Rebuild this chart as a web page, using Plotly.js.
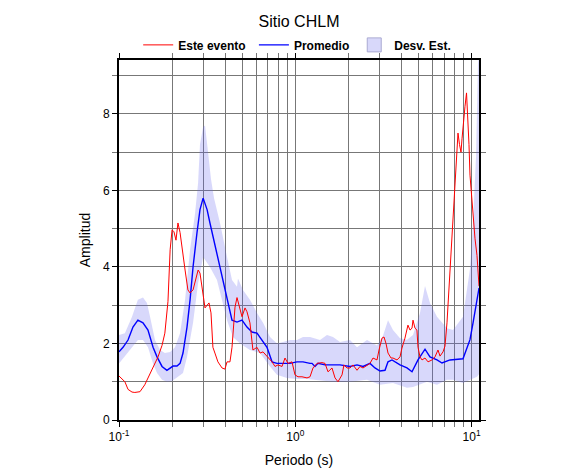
<!DOCTYPE html>
<html>
<head>
<meta charset="utf-8">
<script src="https://cdn.plot.ly/plotly-3.0.1.min.js"></script>
<style>html,body{margin:0;padding:0;background:#fff;}#chart{width:586px;height:475px;}</style>
</head>
<body>
<div id="chart"></div>
<script>
// Este evento
var redPeriod = [0.1,0.104,0.108,0.1125,0.1185,0.123,0.1315,0.14,0.148,0.154,0.1665,0.1754,0.182,0.1896,0.195,0.2,0.205,0.2105,0.216,0.222,0.228,0.237,0.246,0.253,0.263,0.273,0.281,0.288,0.296,0.3075,0.316,0.324,0.3325,0.341,0.35,0.364,0.384,0.399,0.41,0.426,0.4375,0.455,0.467,0.486,0.4986,0.5185,0.532,0.553,0.575,0.6065,0.631,0.656,0.7,0.738,0.767,0.798,0.841,0.874,0.909,0.958,0.996,1.036,1.091,1.165,1.212,1.26,1.328,1.417,1.474,1.533,1.615,1.68,1.747,1.841,1.888,1.965,2.043,2.125,2.239,2.328,2.421,2.551,2.653,2.759,2.907,2.984,3.103,3.185,3.27,3.356,3.49,3.581,3.775,3.926,4.027,4.188,4.301,4.355,4.473,4.592,4.652,4.775,4.898,4.966,5.097,5.233,5.442,5.659,5.962,6.2,6.447,6.62,6.884,7.063,7.252,7.542,7.843,8.05,8.264,8.372,8.54,8.708,8.822,8.938,9.175,9.36,9.48,9.665,9.793,10.05,10.19,10.45,10.73,11.02];
var redAmp = [1.15,1.08,1.0,0.8,0.73,0.72,0.74,0.92,1.15,1.3,1.65,1.95,2.27,3.1,4.45,4.97,4.92,4.7,5.15,4.9,4.45,3.92,3.4,3.32,3.4,3.66,3.92,3.84,3.48,2.93,3.0,3.06,2.8,1.9,1.75,1.52,1.36,1.33,1.52,1.52,1.9,2.95,3.2,2.88,2.7,2.93,2.83,2.54,1.83,1.9,1.75,1.78,1.65,1.52,1.4,1.44,1.4,1.62,1.48,1.52,1.18,1.13,1.13,1.1,1.13,1.36,1.48,1.5,1.48,1.26,1.36,1.1,1.0,1.18,1.44,1.36,1.36,1.44,1.3,1.4,1.36,1.44,1.48,1.62,1.57,1.83,2.14,2.17,2.0,1.75,1.62,1.62,1.57,1.65,1.88,2.14,2.35,2.48,2.35,2.4,2.61,2.4,2.35,1.9,1.65,1.57,1.62,1.52,1.57,1.65,1.83,1.67,1.78,1.93,2.54,3.84,5.15,6.0,6.9,7.5,7.2,7.0,7.35,7.7,8.2,8.55,8.1,7.2,6.4,5.7,5.2,4.75,4.3,3.5];

// Promedio
var avgPeriod = [0.1,0.1054,0.1125,0.12,0.128,0.1368,0.146,0.156,0.1643,0.1754,0.187,0.195,0.2025,0.2133,0.222,0.2307,0.2431,0.253,0.263,0.277,0.288,0.3,0.316,0.328,0.341,0.3596,0.384,0.41,0.4375,0.467,0.4986,0.532,0.568,0.6065,0.6474,0.691,0.738,0.787,0.8516,0.933,1.022,1.106,1.212,1.244,1.293,1.345,1.474,1.573,1.793,2.043,2.239,2.421,2.653,2.831,3.023,3.227,3.356,3.537,3.678,3.926,4.301,4.592,4.966,5.442,5.807,6.363,6.795,7.542,8.938,9.793,10.19,11.02];
var avgAmp = [1.78,1.9,2.09,2.43,2.61,2.54,2.35,1.9,1.65,1.4,1.3,1.36,1.41,1.41,1.48,1.75,2.43,3.14,4.0,4.9,5.5,5.8,5.5,5.15,4.8,4.37,3.74,3.14,2.61,2.56,2.61,2.43,2.3,2.27,2.09,1.9,1.52,1.48,1.48,1.48,1.52,1.52,1.48,1.48,1.4,1.48,1.44,1.44,1.44,1.4,1.44,1.4,1.48,1.36,1.28,1.3,1.52,1.57,1.52,1.44,1.36,1.26,1.57,1.85,1.65,1.57,1.49,1.57,1.6,2.1,2.54,3.45];

// Desv. Est. (upper and lower bounds)
var sdUpperPeriod = [0.1,0.108,0.1185,0.128,0.1368,0.1441,0.15,0.16,0.171,0.182,0.195,0.2078,0.222,0.237,0.253,0.27,0.281,0.288,0.3,0.3075,0.32,0.3325,0.3458,0.374,0.41,0.4375,0.467,0.473,0.505,0.553,0.6065,0.656,0.7186,0.787,0.8516,0.933,1.022,1.106,1.212,1.381,1.513,1.636,1.793,2.043,2.239,2.551,2.907,3.144,3.356,3.581,3.926,4.301,4.652,5.097,5.442,5.807,6.363,7.252,7.843,8.938,9.793,10.19,10.6,10.73,10.87,11.02];
var sdUpperAmp = [2.22,2.27,2.7,3.14,3.2,3.06,2.7,2.09,1.83,1.75,1.78,1.9,2.27,3.14,4.45,5.4,6.2,7.2,7.66,7.7,7.0,6.3,5.8,5.15,4.26,3.66,3.48,3.7,3.4,3.14,2.8,2.54,2.17,2.0,2.04,2.09,2.09,2.17,2.17,2.09,2.22,2.17,2.04,2.09,1.9,2.09,1.95,2.2,2.61,2.35,2.14,2.1,2.22,2.8,3.5,3.06,2.7,2.4,2.35,2.7,3.95,5.15,6.9,8.65,9.3,9.6];
var sdLowerPeriod = [0.1,0.108,0.1185,0.128,0.1368,0.146,0.156,0.1643,0.1754,0.187,0.2,0.216,0.2307,0.2431,0.263,0.281,0.3,0.328,0.3596,0.41,0.443,0.486,0.553,0.631,0.7186,0.787,0.897,1.022,1.165,1.328,1.636,2.043,2.551,3.023,3.581,4.301,4.652,5.585,6.363,7.252,7.843,8.938,9.793,10.73,11.02];
var sdLowerAmp = [1.48,1.65,1.9,2.09,2.09,1.9,1.48,1.23,1.05,1.0,1.02,1.13,1.23,1.65,2.54,3.58,4.26,4.0,3.66,2.61,2.17,2.0,1.83,1.75,1.4,1.18,1.1,1.07,1.07,1.05,1.0,1.0,1.05,0.92,0.97,0.84,0.86,1.0,0.92,1.05,1.05,0.97,1.05,1.13,1.2];

var xMajor = [0.1, 1, 10];
var xMajorText = ['10<sup>-1</sup>', '10<sup>0</sup>', '10<sup>1</sup>'];
var xMinor = [0.2,0.3,0.4,0.5,0.6,0.7,0.8,0.9,2,3,4,5,6,7,8,9];
var yMajor = [0,2,4,6,8];
var yMinor = [1,3,5,7,9];

var bandX = sdUpperPeriod.concat(sdLowerPeriod.slice().reverse());
var bandY = sdUpperAmp.concat(sdLowerAmp.slice().reverse());
var bandColor = 'rgba(100,100,240,0.25)';

var traces = [
  {x: bandX, y: bandY, type: 'scatter', mode: 'lines', fill: 'toself',
   fillcolor: bandColor, line: {width: 0, color: 'rgba(0,0,0,0)'},
   showlegend: false, hoverinfo: 'skip'},
  {x: avgPeriod, y: avgAmp, type: 'scatter', mode: 'lines',
   line: {color: 'rgb(0,0,255)', width: 1.4}, name: 'Promedio', legendrank: 2},
  {x: redPeriod, y: redAmp, type: 'scatter', mode: 'lines',
   line: {color: 'rgb(255,0,0)', width: 1}, name: 'Este evento\u00a0', legendrank: 1},
  {x: [null], y: [null], type: 'scatter', mode: 'markers',
   marker: {symbol: 'square', size: 14, color: 'rgb(216,216,250)', line: {color: 'rgb(170,170,210)', width: 1}},
   name: 'Desv. Est.', legendrank: 3, hoverinfo: 'skip'}
];

var layout = {
  width: 586, height: 475,
  margin: {l: 119, r: 107, t: 60, b: 55},
  paper_bgcolor: '#fff', plot_bgcolor: '#fff',
  font: {family: 'Liberation Sans, Arial, sans-serif', size: 12, color: '#000'},
  title: {text: 'Sitio CHLM', font: {size: 16}, x: 0.5, xref: 'paper', y: 0.955, yref: 'container', yanchor: 'middle'},
  showlegend: true,
  legend: {orientation: 'h', x: 0.495, xanchor: 'center', y: 1.042, yanchor: 'middle',
           font: {size: 12, weight: 'bold'}, tracegroupgap: 0, bgcolor: 'rgba(0,0,0,0)'},
  xaxis: {
    type: 'log', range: [-1, 1.042],
    tickmode: 'array', tickvals: xMajor, ticktext: xMajorText,
    ticks: 'outside', ticklen: 5, tickcolor: '#000',
    showgrid: true, gridcolor: '#777', gridwidth: 1,
    minor: {tickmode: 'array', tickvals: xMinor, ticks: 'outside', ticklen: 5, tickcolor: '#777', showgrid: true, gridcolor: '#777', gridwidth: 1},
    showline: true, linecolor: '#000', linewidth: 2, mirror: 'allticks',
    zeroline: false, tickfont: {size: 12},
    title: {text: 'Periodo (s)', font: {size: 14}, standoff: 12}
  },
  yaxis: {
    range: [0, 9.41],
    tickmode: 'array', tickvals: yMajor,
    ticks: 'outside', ticklen: 5, tickcolor: '#000',
    showgrid: true, gridcolor: '#777', gridwidth: 1,
    minor: {tickmode: 'array', tickvals: yMinor, ticks: 'outside', ticklen: 5, tickcolor: '#777', showgrid: true, gridcolor: '#777', gridwidth: 1},
    showline: true, linecolor: '#000', linewidth: 2, mirror: 'allticks',
    zeroline: false, tickfont: {size: 12},
    title: {text: 'Amplitud', font: {size: 14}, standoff: 9}
  }
};

Plotly.newPlot('chart', traces, layout, {displayModeBar: false, staticPlot: true});
</script>
</body>
</html>
